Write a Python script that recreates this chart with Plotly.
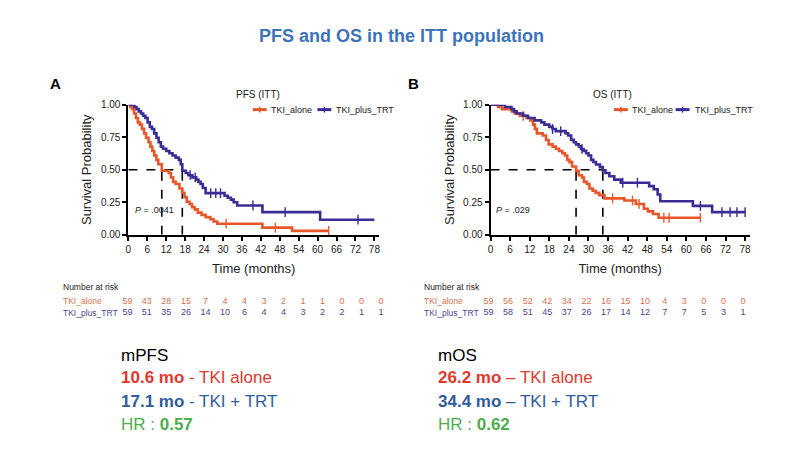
import plotly.graph_objects as go
import numpy as np

# ---------------- data ----------------
pfs_alone_t = [0, 0.6, 1.2, 1.8, 2.4, 3.0, 3.6, 4.3, 5.0, 5.6, 6.4, 7.0, 7.6, 8.2, 8.9, 9.5, 10.6, 12.8, 13.5, 14.2,
               15.0, 16.2, 17.1, 17.8, 18.5, 19.4, 20.2, 21.0, 22.0, 23.2, 24.5, 26.0, 27.0, 28.2, 42.5, 51.9, 63.5]
pfs_alone_s = [1.0, 0.983, 0.966, 0.932, 0.898, 0.864, 0.847, 0.814, 0.78, 0.746, 0.712, 0.678, 0.644, 0.61, 0.576,
               0.542, 0.492, 0.475, 0.441, 0.407, 0.39, 0.356, 0.322, 0.288, 0.254, 0.237, 0.212, 0.195, 0.17, 0.153,
               0.136, 0.119, 0.102, 0.085, 0.055, 0.03, 0.03]
pfs_alone_cens = [31.0, 46.6, 63.5]

pfs_plus_t = [0, 1.9, 2.6, 3.3, 4.0, 4.7, 5.4, 6.1, 6.8, 7.5, 8.2, 8.9, 9.6, 10.3, 11.0, 12.0, 13.0, 14.0, 15.0, 16.0,
              16.6, 17.1, 18.2, 19.0, 20.3, 21.5, 22.2, 22.9, 23.6, 24.5, 30.5, 31.5, 32.5, 33.4, 34.5, 42.5, 60.8, 78.0]
pfs_plus_s = [1.0, 0.983, 0.966, 0.949, 0.932, 0.915, 0.898, 0.864, 0.83, 0.813, 0.78, 0.746, 0.712, 0.678, 0.661,
              0.644, 0.627, 0.61, 0.593, 0.576, 0.542, 0.492, 0.475, 0.458, 0.441, 0.424, 0.407, 0.39, 0.36, 0.32,
              0.30, 0.285, 0.27, 0.25, 0.225, 0.174, 0.116, 0.116]
pfs_plus_cens = [19.6, 21.2, 26.1, 27.7, 29.2, 39.5, 49.7, 72.8]

os_alone_t = [0, 2.3, 3.5, 6.5, 7.4, 9.0, 11.0, 12.2, 13.0, 13.6, 14.2, 16.0, 17.0, 17.8, 19.0, 20.0, 21.0, 22.0, 22.8,
              23.5, 24.2, 25.0, 26.2, 27.0, 28.0, 28.6, 29.5, 30.3, 31.3, 32.2, 33.3, 34.9, 41.0, 44.5, 47.0, 48.2,
              49.8, 51.5, 64.3]
os_alone_s = [1.0, 0.983, 0.966, 0.949, 0.932, 0.915, 0.898, 0.88, 0.847, 0.814, 0.78, 0.763, 0.729, 0.695, 0.678,
              0.661, 0.644, 0.627, 0.61, 0.576, 0.559, 0.525, 0.492, 0.458, 0.44, 0.407, 0.39, 0.356, 0.339, 0.322,
              0.305, 0.28, 0.263, 0.237, 0.2, 0.18, 0.16, 0.131, 0.131]
os_alone_cens = [10.0, 37.4, 43.5, 45.5, 53.1, 54.7, 64.3]

os_plus_t = [0, 4.4, 6.4, 7.2, 8.0, 10.0, 11.5, 13.5, 15.5, 16.5, 18.0, 19.0, 20.0, 23.0, 23.8, 24.7, 25.5, 26.2, 27.0,
             27.7, 28.5, 29.3, 30.0, 30.8, 31.5, 32.3, 33.5, 34.4, 35.2, 36.4, 37.9, 39.9, 48.6, 50.0, 51.2, 52.0,
             62.0, 67.9, 78.0]
os_plus_s = [1.0, 0.983, 0.966, 0.949, 0.932, 0.915, 0.898, 0.88, 0.864, 0.847, 0.83, 0.813, 0.797, 0.78, 0.763,
             0.73, 0.712, 0.695, 0.68, 0.66, 0.645, 0.627, 0.61, 0.576, 0.56, 0.54, 0.52, 0.495, 0.475, 0.45, 0.424,
             0.40, 0.374, 0.35, 0.31, 0.258, 0.222, 0.174, 0.174]
os_plus_cens = [19.0, 21.5, 28.0, 40.5, 45.0, 64.3, 70.9, 73.4, 75.5, 78.0]

medians_pfs = [10.6, 17.1]
medians_os = [26.2, 34.4]

risk_times = [0, 6, 12, 18, 24, 30, 36, 42, 48, 54, 60, 66, 72, 78]
risk_pfs_alone = [59, 43, 28, 15, 7, 4, 4, 3, 2, 1, 1, 0, 0, 0]
risk_pfs_plus = [59, 51, 35, 26, 14, 10, 6, 4, 4, 3, 2, 2, 1, 1]
risk_os_alone = [59, 56, 52, 42, 34, 22, 16, 15, 10, 4, 3, 0, 0, 0]
risk_os_plus = [59, 58, 51, 45, 37, 26, 17, 14, 12, 7, 7, 5, 3, 1]

series_names = ["TKI_alone", "TKI_plus_TRT"]
y_ticks = [0, 0.25, 0.5, 0.75, 1.0]

ORANGE = "#e8562a"
BLUE = "#3a2d96"
T_ORANGE = "#d4714f"
T_BLUE = "#4b4690"
FONT = "Liberation Sans, Arial, sans-serif"


def step_at(ts, ss, t):
    idx = np.searchsorted(np.array(ts), t, side="right") - 1
    return ss[max(idx, 0)]


fig = go.Figure()

panels = [
    dict(x="x", y="y", curves=[(pfs_alone_t, pfs_alone_s, pfs_alone_cens, ORANGE),
                               (pfs_plus_t, pfs_plus_s, pfs_plus_cens, BLUE)], med=medians_pfs),
    dict(x="x2", y="y2", curves=[(os_alone_t, os_alone_s, os_alone_cens, ORANGE),
                                 (os_plus_t, os_plus_s, os_plus_cens, BLUE)], med=medians_os),
]

for p in panels:
    m1, m2 = p["med"]
    fig.add_trace(go.Scatter(x=[0, max(m1, m2)], y=[0.5, 0.5], mode="lines", xaxis=p["x"], yaxis=p["y"],
                             line=dict(color="black", width=1.6, dash="dash"), showlegend=False, hoverinfo="skip"))
    for m in (m1, m2):
        fig.add_trace(go.Scatter(x=[m, m], y=[0, 0.5], mode="lines", xaxis=p["x"], yaxis=p["y"],
                                 line=dict(color="black", width=1.6, dash="dash"), showlegend=False,
                                 hoverinfo="skip"))
    for (ts, ss, cens, col), nm in zip(p["curves"], series_names):
        fig.add_trace(go.Scatter(x=ts, y=ss, mode="lines", line=dict(color=col, width=2.6, shape="hv"),
                                 xaxis=p["x"], yaxis=p["y"], name=nm, showlegend=False, cliponaxis=False))
        fig.add_trace(go.Scatter(x=cens, y=[step_at(ts, ss, c) for c in cens], mode="markers",
                                 marker=dict(symbol="line-ns", size=7, line=dict(color=col, width=1.4)),
                                 xaxis=p["x"], yaxis=p["y"], showlegend=False, cliponaxis=False))

tables = [("x3", "y3", risk_pfs_alone, risk_pfs_plus), ("x4", "y4", risk_os_alone, risk_os_plus)]
for xa, ya, r1, r2 in tables:
    fig.add_trace(go.Scatter(x=risk_times, y=[1] * len(risk_times), mode="text", text=[str(v) for v in r1],
                             textfont=dict(color=T_ORANGE, size=9, family=FONT), xaxis=xa, yaxis=ya,
                             showlegend=False, cliponaxis=False))
    fig.add_trace(go.Scatter(x=risk_times, y=[0] * len(risk_times), mode="text", text=[str(v) for v in r2],
                             textfont=dict(color=T_BLUE, size=9, family=FONT), xaxis=xa, yaxis=ya,
                             showlegend=False, cliponaxis=False))

W, H = 800, 450


def px(v):
    return v / W


def py(v):
    return 1 - v / H


ppmA, x0A = 3.17, 126.0
ppmB, x0B = 3.28, 490.0
XMAX = 79.5

axis_common = dict(showline=True, linewidth=2, linecolor="black", ticks="outside", ticklen=4, tickwidth=1.5,
                   tickcolor="black", showgrid=False, zeroline=False, tickfont=dict(size=10, color="#222", family=FONT))

xa_common = dict(axis_common, range=[0, XMAX], tickvals=risk_times,
                 title=dict(text="Time (months)", font=dict(size=13, color="#222", family=FONT), standoff=10))
ya_common = dict(axis_common, range=[0, 1.0], tickvals=y_ticks, tickformat=".2f",
                 title=dict(text="Survival Probability", font=dict(size=13, color="#222", family=FONT), standoff=6))

ydom = [py(235), py(102)]
fig.update_layout(
    width=W, height=H, margin=dict(l=0, r=0, t=0, b=0), paper_bgcolor="white", plot_bgcolor="white",
    font=dict(family=FONT),
    xaxis=dict(xa_common, domain=[px(x0A), px(x0A + XMAX * ppmA)], anchor="y"),
    yaxis=dict(ya_common, domain=ydom, anchor="x"),
    xaxis2=dict(xa_common, domain=[px(x0B), px(x0B + XMAX * ppmB)], anchor="y2"),
    yaxis2=dict(ya_common, domain=ydom, anchor="x2"),
    xaxis3=dict(domain=[px(125.0), px(125.0 + 78 * 19.6 / 6)], range=[0, 78], visible=False, anchor="y3"),
    yaxis3=dict(domain=[py(321), py(298)], range=[-0.5, 1.5], visible=False, anchor="x3"),
    xaxis4=dict(domain=[px(488.0), px(488.0 + 78 * 19.67 / 6)], range=[0, 78], visible=False, anchor="y4"),
    yaxis4=dict(domain=[py(321), py(298)], range=[-0.5, 1.5], visible=False, anchor="x4"),
    showlegend=False,
)

ann = []


def A(x, y, text, size, color="#111", xanchor="left", **kw):
    ann.append(dict(x=px(x), y=py(y), xref="paper", yref="paper", text=text, showarrow=False,
                    xanchor=xanchor, yanchor="middle", font=dict(size=size, color=color, family=FONT), **kw))


A(400, 32, "<b>PFS and OS in the ITT population</b>", 18, "#3d73b8", "center")
A(53, 80, "<b>A</b>", 15, "black", "center")
A(413, 80, "<b>B</b>", 15, "black", "center")
A(256, 92, "PFS (ITT)", 10, "#222", "center")
A(613, 92, "OS (ITT)", 10, "#222", "center")
A(131, 210, "<i>P</i> = .0041", 9, "#222")
A(493, 210, "<i>P</i> = .029", 9, "#222")

shapes = []
legs = [((251, 265, 267), (316, 330, 333)), ((614, 628, 630), (676, 690, 693))]
for (o, b) in legs:
    for (xs, xe, xt), col, nm in ((o, ORANGE, series_names[0]), (b, BLUE, series_names[1])):
        shapes.append(dict(type="line", xref="paper", yref="paper", x0=px(xs), x1=px(xe), y0=py(107), y1=py(107),
                           line=dict(color=col, width=3)))
        shapes.append(dict(type="line", xref="paper", yref="paper", x0=px((xs + xe) / 2), x1=px((xs + xe) / 2),
                           y0=py(104), y1=py(110), line=dict(color=col, width=1.4)))
        A(xt, 107, nm, 9, "#222")

for x0 in (58, 421):
    A(x0, 288, "Number at risk", 8.5, "#222")
    A(x0, 303, series_names[0], 8.5, T_ORANGE)
    A(x0, 315.5, series_names[1], 8.5, T_BLUE)

RED = "#e0382c"
BL2 = "#2f5c9e"
GR = "#4cae4c"
A(117, 358, "mPFS", 17, "black")
A(117, 381, "<b>10.6 mo</b> - TKI alone", 17, RED)
A(117, 405, "<b>17.1 mo</b> - TKI + TRT", 17, BL2)
A(117, 429, "HR : <b>0.57</b>", 17, GR)
A(435, 358, "mOS", 17, "black")
A(435, 381, "<b>26.2 mo</b> – TKI alone", 17, RED)
A(435, 405, "<b>34.4 mo</b> – TKI + TRT", 17, BL2)
A(435, 429, "HR : <b>0.62</b>", 17, GR)

fig.update_layout(annotations=ann, shapes=shapes)
fig.write_html("out.html", config={"displayModeBar": False},
               post_script="document.body.style.margin='0';document.body.style.overflow='hidden';")
